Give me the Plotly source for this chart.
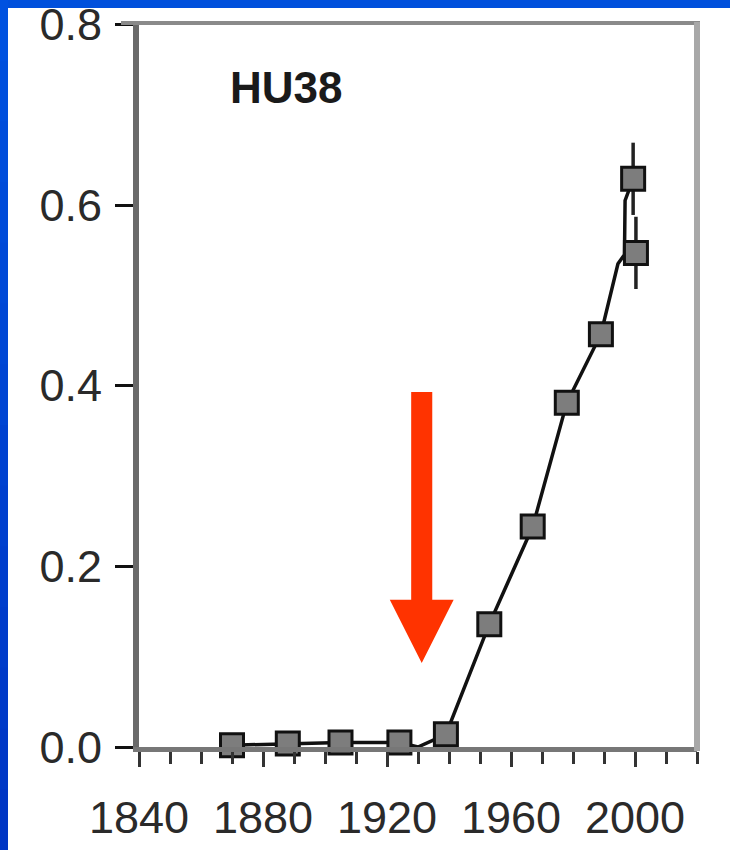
import plotly.graph_objects as go

# ---- data ----
years_pts = [1870, 1888, 1905, 1924, 1939, 1953, 1967, 1978, 1989, 1999.4, 2000.3]
vals_pts = [0.002, 0.004, 0.005, 0.005, 0.014, 0.136, 0.244, 0.381, 0.457, 0.629, 0.547]
err_pts = [0, 0, 0, 0, 0, 0, 0, 0, 0, 0.04, 0.04]

years_line = [1870, 1888, 1905, 1924, 1926, 1930, 1939, 1953, 1967, 1978, 1989, 1994.5, 1996.6, 1996.8, 1999.4]
vals_line = [0.002, 0.004, 0.005, 0.005, 0.003, 0.0, 0.014, 0.136, 0.244, 0.381, 0.457, 0.535, 0.545, 0.605, 0.629]

x_ticks = [1840, 1880, 1920, 1960, 2000]
y_ticks = [0.0, 0.2, 0.4, 0.6, 0.8]
y_ticktext = ["0.0", "0.2", "0.4", "0.6", "0.8"]
label = "HU38"

# red arrow (data coords)
ARROW_X = 1931.2
ARROW_TOP = 0.393
ARROW_HEAD = 0.163
ARROW_TIP = 0.093
SHAFT_HALF = 3.4
HEAD_HALF = 10.3

W, H = 730, 850
L, R, T, B = 139, 33, 24, 103
PW, PH = W - L - R, H - T - B


def px(xr):  # window pixel -> paper x
    return (xr - L) / PW


def py(yr):  # window pixel -> paper y
    return 1 - (yr - T) / PH


TICKFONT = dict(family="Liberation Sans, Arial", size=45, color="#2a2a2a")

fig = go.Figure()
fig.add_trace(go.Scatter(
    x=years_line, y=vals_line, mode="lines",
    line=dict(color="#111111", width=3.5), cliponaxis=False, showlegend=False,
))
fig.add_trace(go.Scatter(
    x=years_pts, y=vals_pts, mode="markers",
    marker=dict(symbol="square", size=23, color="#7d7d7d", line=dict(color="#111111", width=3)),
    error_y=dict(type="data", array=err_pts, visible=True, color="#222222", thickness=3.5, width=0),
    cliponaxis=False, showlegend=False,
))

shapes = []
path = (f"M {ARROW_X - SHAFT_HALF},{ARROW_TOP} L {ARROW_X + SHAFT_HALF},{ARROW_TOP} "
        f"L {ARROW_X + SHAFT_HALF},{ARROW_HEAD} L {ARROW_X + HEAD_HALF},{ARROW_HEAD} "
        f"L {ARROW_X},{ARROW_TIP} L {ARROW_X - HEAD_HALF},{ARROW_HEAD} "
        f"L {ARROW_X - SHAFT_HALF},{ARROW_HEAD} Z")
shapes.append(dict(type="path", path=path, xref="x", yref="y", fillcolor="#ff3300",
                   line=dict(width=0), layer="above"))
# top and right frame lines
shapes.append(dict(type="line", xref="paper", yref="paper", x0=px(121), x1=px(700), y0=py(23), y1=py(23),
                   line=dict(color="#8a8a8a", width=4), layer="above"))
shapes.append(dict(type="line", xref="paper", yref="paper", x0=px(697), x1=px(697), y0=py(22), y1=py(751),
                   line=dict(color="#a8a8a8", width=6), layer="above"))
# blue slide border: top strip and left strip (darkening downwards), kept inside the figure
shapes.append(dict(type="rect", xref="paper", yref="paper", x0=px(0), x1=px(730), y0=py(0), y1=py(8),
                   fillcolor="#0050dc", line=dict(width=0), layer="above"))
n = 14
for i in range(n):
    t = i / (n - 1)
    g_, b_ = int(0x52 + (0x36 - 0x52) * t), int(0xe0 + (0xc4 - 0xe0) * t)
    shapes.append(dict(type="rect", xref="paper", yref="paper", x0=px(0), x1=px(8),
                       y0=py(i * H / n), y1=py(min((i + 1) * H / n + 1, H)),
                       fillcolor=f"rgb(0,{g_},{b_})", line=dict(width=0), layer="above"))

fig.update_layout(
    width=W, height=H,
    margin=dict(l=L, r=R, t=T, b=B),
    paper_bgcolor="white", plot_bgcolor="white",
    shapes=shapes,
    annotations=[dict(text=f"<b>{label}</b>", xref="paper", yref="paper", x=px(286), y=py(87),
                      xanchor="center", yanchor="middle", showarrow=False,
                      font=dict(family="Liberation Sans, Arial", size=44, color="#1a1a1a"))],
)
fig.update_xaxes(
    range=[1840, 2020], tickvals=x_ticks, ticks="outside", ticklen=15, tickwidth=3, tickcolor="#333333",
    minor=dict(dtick=10, tick0=1840, ticks="outside", ticklen=12, tickwidth=3, tickcolor="#333333"),
    showline=True, linecolor="#777777", linewidth=5, showgrid=False, zeroline=False,
    tickfont=TICKFONT, ticklabelstandoff=12, automargin=False, ticklabeloverflow="allow",
)
fig.update_yaxes(
    range=[0, 0.8004], tickvals=y_ticks, ticktext=y_ticktext, ticks="outside", ticklen=18, tickwidth=3,
    tickcolor="#111111", showline=True, linecolor="#6a6a6a", linewidth=6, showgrid=False, zeroline=False,
    tickfont=TICKFONT, ticklabelstandoff=4, automargin=False, ticklabeloverflow="allow",
)

# let the figure fill the window exactly (no default 8px body margin)
post = "document.body.style.margin='0';document.body.style.overflow='hidden';"
fig.write_html("out.html", post_script=post, config={"displayModeBar": False})
